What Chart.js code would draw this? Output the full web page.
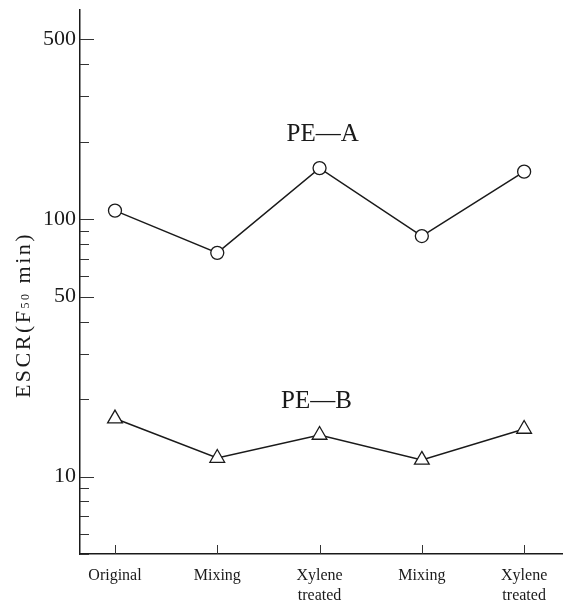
<!DOCTYPE html>
<html>
<head>
<meta charset="utf-8">
<script src="https://cdn.jsdelivr.net/npm/chart.js@4.4.1/dist/chart.umd.min.js"></script>
<style>
  html, body { margin: 0; padding: 0; background: #fff; overflow: hidden; }
  #wrap { width: 563px; height: 604px; }
  canvas { display: block; }
</style>
</head>
<body>
<div id="wrap"><canvas id="myChart" width="563" height="604"></canvas></div>
<script>
// treatment steps along the x axis
const categories = ['Original', 'Mixing', ['Xylene', 'treated'], 'Mixing', ['Xylene', 'treated']];
// ESCR values (F50, min)
const peA = [108, 74, 158, 86, 153];
const peB = [16.8, 11.8, 14.5, 11.6, 15.3];
const seriesNames = ['PE\u2014A', 'PE\u2014B'];
// y axis tick marks, only some get a label
const yTicks = [5, 6, 7, 8, 9, 10, 20, 30, 40, 50, 60, 70, 80, 90, 100, 200, 300, 400, 500];
const yLabels = [10, 50, 100, 500];

const serif = "'Liberation Serif', 'DejaVu Serif', serif";
const ink = '#1a1a1a';

// tick marks drawn inside the plot, plus the rotated axis title and series names
const decorPlugin = {
    id: 'decor',
    afterDraw(chart) {
        const ctx = chart.ctx;
        const x = chart.scales.x;
        const y = chart.scales.y;
        const area = chart.chartArea;
        ctx.save();
        ctx.strokeStyle = '#333';
        ctx.lineWidth = 1;
        yTicks.forEach(v => {
            const py = Math.round(y.getPixelForValue(v)) + 0.5;
            const len = yLabels.includes(v) ? 14 : 9;
            ctx.beginPath();
            ctx.moveTo(area.left, py);
            ctx.lineTo(area.left + len, py);
            ctx.stroke();
        });
        categories.forEach((c, i) => {
            const px = Math.round(x.getPixelForValue(i)) + 0.5;
            ctx.beginPath();
            ctx.moveTo(px, area.bottom);
            ctx.lineTo(px, area.bottom - 9);
            ctx.stroke();
        });

        // axis title: ESCR(F50 min) with small 50
        ctx.fillStyle = ink;
        ctx.translate(24, 315);
        ctx.rotate(-Math.PI / 2);
        ctx.textBaseline = 'middle';
        ctx.letterSpacing = '2.5px';
        const parts = [['ESCR(F', 22, 0], ['50', 12, 1], [' min)', 22, 0]];
        let w = 0;
        parts.forEach(p => { ctx.font = p[1] + 'px ' + serif; w += ctx.measureText(p[0]).width; });
        let cx = -w / 2;
        parts.forEach(p => {
            ctx.font = p[1] + 'px ' + serif;
            ctx.textAlign = 'left';
            ctx.fillText(p[0], cx, p[2] ? 2 : 0);
            cx += ctx.measureText(p[0]).width;
        });
        ctx.restore();

        ctx.save();
        ctx.fillStyle = ink;
        ctx.font = '25px ' + serif;
        ctx.textAlign = 'center';
        ctx.textBaseline = 'middle';
        ctx.fillText(seriesNames[0], x.getPixelForValue(2.03), y.getPixelForValue(213));
        ctx.fillText(seriesNames[1], x.getPixelForValue(1.97), y.getPixelForValue(19.5));
        ctx.restore();
    }
};

document.addEventListener('DOMContentLoaded', function() {
    const ctx = document.getElementById('myChart').getContext('2d');
    new Chart(ctx, {
        type: 'line',
        data: {
            datasets: [{
                label: seriesNames[0],
                data: peA.map((v, i) => ({x: i, y: v})),
                borderColor: ink,
                borderWidth: 1.5,
                pointStyle: 'circle',
                pointRadius: 6.5,
                pointBackgroundColor: '#fff',
                pointBorderColor: ink,
                pointBorderWidth: 1.3,
                tension: 0
            }, {
                label: seriesNames[1],
                data: peB.map((v, i) => ({x: i, y: v})),
                borderColor: ink,
                borderWidth: 1.5,
                pointStyle: 'triangle',
                pointRadius: 8.5,
                pointBackgroundColor: '#fff',
                pointBorderColor: ink,
                pointBorderWidth: 1.3,
                tension: 0
            }]
        },
        options: {
            responsive: false,
            maintainAspectRatio: false,
            animation: false,
            layout: { autoPadding: false, padding: { top: 10, right: 0, bottom: 0, left: 0 } },
            plugins: {
                legend: { display: false },
                tooltip: { enabled: false }
            },
            scales: {
                x: {
                    type: 'linear',
                    min: -0.342,
                    max: 4.38,
                    afterBuildTicks: scale => { scale.ticks = categories.map((c, i) => ({value: i})); },
                    afterFit: scale => {
                        scale.height = 50;
                        scale.paddingLeft = 0;
                        scale.paddingRight = 0;
                    },
                    grid: { display: false, drawTicks: false, tickLength: 0 },
                    border: { display: true, color: ink, width: 1.5 },
                    ticks: {
                        autoSkip: false,
                        maxRotation: 0,
                        padding: 12,
                        color: ink,
                        font: { family: serif, size: 16, lineHeight: 1.25 },
                        callback: v => categories[v]
                    }
                },
                y: {
                    type: 'logarithmic',
                    min: 5,
                    max: 650,
                    afterBuildTicks: scale => { scale.ticks = yTicks.map(v => ({value: v})); },
                    afterFit: scale => {
                        scale.width = 80;
                        scale.paddingTop = 0;
                        scale.paddingBottom = 0;
                    },
                    grid: { display: false, drawTicks: false, tickLength: 0 },
                    border: { display: true, color: ink, width: 1.5 },
                    ticks: {
                        autoSkip: false,
                        padding: 4,
                        color: ink,
                        font: { family: serif, size: 22 },
                        callback: v => yLabels.includes(v) ? String(v) : ''
                    }
                }
            }
        },
        plugins: [decorPlugin]
    });
});
</script>
</body>
</html>
